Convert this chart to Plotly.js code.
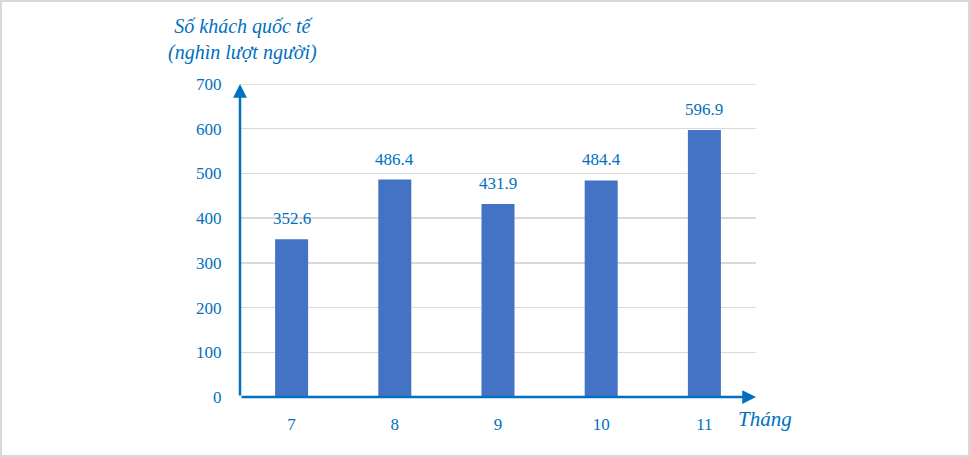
<!DOCTYPE html>
<html>
<head>
<meta charset="utf-8">
<script src="https://cdn.plot.ly/plotly-3.0.1.min.js"></script>
<style>
html,body{margin:0;padding:0;background:#fff;}
#wrap{position:relative;width:970px;height:457px;}
#chart{width:970px;height:457px;}
#frame{position:absolute;left:0;top:0;width:970px;height:457px;box-sizing:border-box;border:2px solid #d9d9d9;pointer-events:none;}
</style>
</head>
<body>
<div id="wrap"><div id="chart"></div><div id="frame"></div></div>
<script>
const months = ['7', '8', '9', '10', '11'];
const visitors = [352.6, 486.4, 431.9, 484.4, 596.9];
const valueLabels = ['352.6', '486.4', '431.9', '484.4', '596.9'];
const yTicks = [0, 100, 200, 300, 400, 500, 600, 700];

const blue = '#0070C0';
const font = 'Liberation Serif, Times New Roman, serif';

const trace = {
  type: 'bar',
  x: months,
  y: visitors,
  marker: {color: '#4472C4'},
  width: 0.32,
  hoverinfo: 'none'
};

const valueAnnotations = months.map((m, i) => ({
  xref: 'x', yref: 'y', x: i, y: visitors[i],
  text: valueLabels[i], showarrow: false,
  yanchor: 'bottom', yshift: 9,
  font: {family: font, size: 17, color: blue}
}));

const layout = {
  width: 970, height: 457,
  margin: {l: 240, r: 214, t: 84, b: 60},
  paper_bgcolor: '#fff', plot_bgcolor: '#fff',
  showlegend: false,
  font: {family: font, color: blue, size: 17},
  xaxis: {
    type: 'category',
    range: [-0.5, months.length - 0.5],
    showline: false, zeroline: false, showgrid: false,
    ticks: 'outside', ticklen: 12, tickcolor: 'rgba(0,0,0,0)',
    tickfont: {family: font, size: 17, color: blue}
  },
  yaxis: {
    range: [0, 700],
    tickvals: yTicks,
    showline: false, zeroline: false,
    showgrid: true, gridcolor: '#d9d9d9', gridwidth: 1.5,
    ticks: 'outside', ticklen: 14, tickcolor: 'rgba(0,0,0,0)',
    tickfont: {family: font, size: 17, color: blue}
  },
  shapes: [
    {type: 'line', xref: 'paper', yref: 'y', x0: 0, x1: 1, y0: 700, y1: 700,
     line: {color: '#d9d9d9', width: 1.5}, layer: 'below'}
  ],
  annotations: [
    {xref: 'paper', yref: 'paper', x: 2/516, y: 1 + (84 - 39.5)/313, xanchor: 'center', yanchor: 'middle',
     text: '<i>Số khách quốc tế</i><br><i>(nghìn lượt người)</i>', showarrow: false,
     font: {family: font, size: 20, color: blue}},
    {xref: 'paper', yref: 'paper', x: 0, y: 1, ax: 0, ay: 313, axref: 'pixel', ayref: 'pixel',
     text: '', showarrow: true, arrowhead: 2, arrowsize: 1.1, arrowwidth: 2.5, arrowcolor: blue},
    {xref: 'paper', yref: 'paper', x: 1, y: 0, ax: -516, ay: 0,
     text: '', showarrow: true, arrowhead: 2, arrowsize: 1.1, arrowwidth: 2.5, arrowcolor: blue},
    {xref: 'paper', yref: 'paper', x: 1, y: 0, xanchor: 'left', yanchor: 'middle', xshift: -20, yshift: -22,
     text: '<i>Tháng</i>', showarrow: false, font: {family: font, size: 21, color: blue}}
  ].concat(valueAnnotations)
};

Plotly.newPlot('chart', [trace], layout, {displayModeBar: false, staticPlot: true});
</script>
</body>
</html>
